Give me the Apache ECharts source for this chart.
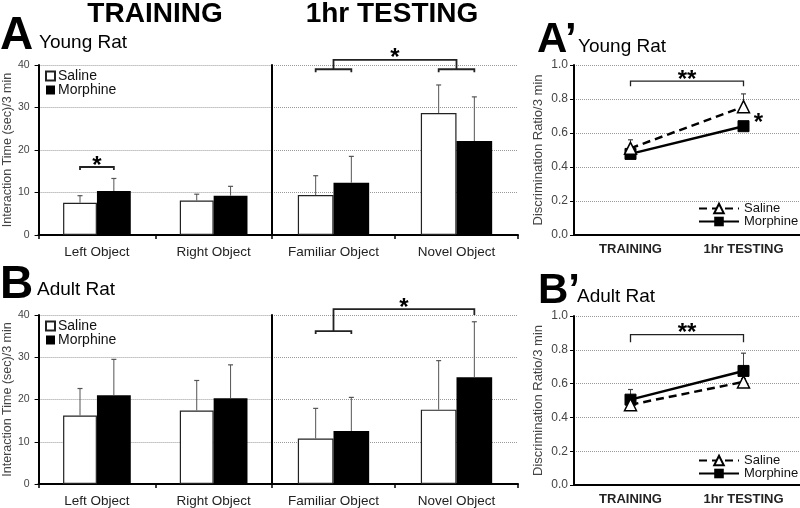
<!DOCTYPE html>
<html><head><meta charset="utf-8">
<script src="https://cdn.jsdelivr.net/npm/echarts@6/dist/echarts.min.js"></script>
<style>html,body{margin:0;padding:0;background:#fff}#c{width:800px;height:508px}</style>
</head><body><div id="c"></div>
<script>
// ---------- data ----------
const trainCategories = ['Left Object', 'Right Object'];
const testCategories = ['Familiar Object', 'Novel Object'];
const phases = ['TRAINING', '1hr TESTING'];

// Young rat (A) interaction time, mean and SEM
const youngTrainSaline = [7.6, 8.1];
const youngTrainSalineErr = [1.65, 1.5];
const youngTrainMorphine = [10.35, 9.25];
const youngTrainMorphineErr = [2.95, 2.2];
const youngTestSaline = [9.4, 28.7];
const youngTestSalineErr = [4.55, 6.6];
const youngTestMorphine = [12.3, 22.1];
const youngTestMorphineErr = [6.2, 10.4];

// Adult rat (B) interaction time
const adultTrainSaline = [16.2, 17.4];
const adultTrainSalineErr = [6.4, 7.1];
const adultTrainMorphine = [21.0, 20.3];
const adultTrainMorphineErr = [8.5, 7.9];
const adultTestSaline = [10.75, 17.6];
const adultTestSalineErr = [7.15, 11.6];
const adultTestMorphine = [12.55, 25.25];
const adultTestMorphineErr = [7.95, 13.15];

// Discrimination ratio (A', B')
const youngDRSaline = [0.51, 0.755];
const youngDRSalineErr = [0.05, 0.075];
const youngDRMorphine = [0.477, 0.64];
const youngDRMorphineErr = [0.02, 0.02];
const adultDRSaline = [0.475, 0.61];
const adultDRSalineErr = [0.02, 0.02];
const adultDRMorphine = [0.505, 0.675];
const adultDRMorphineErr = [0.06, 0.105];

// ---------- chart ----------
const FONT = "'Liberation Sans', Arial, sans-serif";
const GAP = 0.42;
const chart = echarts.init(document.getElementById('c'), null, {renderer: 'canvas'});

const grids = [
  {left: 38, top: 65, width: 234, height: 170},
  {left: 272, top: 65, width: 246, height: 170},
  {left: 38, top: 315, width: 234, height: 169},
  {left: 272, top: 315, width: 246, height: 169},
  {left: 574, top: 65, width: 226, height: 170},
  {left: 574, top: 316, width: 226, height: 169}
];

function catAxis(gi, data, bold) {
  return {
    type: 'category', gridIndex: gi, data: data,
    axisLine: {lineStyle: {color: '#000', width: 2}},
    axisTick: {show: !bold, length: 4, lineStyle: {color: '#000', width: 1.5}},
    axisLabel: {fontSize: bold ? 13 : 13.5, color: '#222', margin: bold ? 8 : 10, fontFamily: FONT, fontWeight: bold ? 'bold' : 'normal'},
    splitLine: {show: false}
  };
}
const split = {show: true, lineStyle: {type: 'dotted', color: '#999', width: 1}};
function barY(gi, labels) {
  return {
    type: 'value', gridIndex: gi, min: 0, max: 40, interval: 10,
    name: labels ? 'Interaction Time (sec)/3 min' : '', nameLocation: 'middle', nameGap: 24,
    nameTextStyle: {fontSize: 12.5, color: '#444', fontFamily: FONT},
    axisLine: {show: true, lineStyle: {color: '#000', width: 2}},
    axisTick: {show: labels, length: 4, lineStyle: {color: '#000'}},
    axisLabel: {show: labels, fontSize: 10.5, color: '#444', margin: 9, fontFamily: FONT},
    splitLine: split
  };
}
function lineY(gi) {
  return {
    type: 'value', gridIndex: gi, min: 0, max: 1, interval: 0.2,
    name: 'Discrimination Ratio/3 min', nameLocation: 'middle', nameGap: 29,
    nameTextStyle: {fontSize: 13, color: '#444', fontFamily: FONT},
    axisLine: {show: true, lineStyle: {color: '#000', width: 2}},
    axisTick: {show: true, length: 4, lineStyle: {color: '#000'}},
    axisLabel: {fontSize: 12, color: '#444', margin: 6, fontFamily: FONT, formatter: v => v.toFixed(1)},
    splitLine: split
  };
}

function bar(name, gi, data) {
  return {
    type: 'bar', name: name, xAxisIndex: gi, yAxisIndex: gi, data: data,
    barGap: '0%', barCategoryGap: (GAP * 100) + '%',
    itemStyle: name === 'Saline' ? {color: '#fff', borderColor: '#222', borderWidth: 1.2} : {color: '#000'},
    z: 2
  };
}
function err(id, gi, vals, errs, side, color, z) {
  return {
    type: 'custom', name: id, xAxisIndex: gi, yAxisIndex: gi, silent: true, z: z,
    encode: {x: 0, y: 1},
    data: vals.map((v, i) => [i, v, errs[i]]),
    renderItem: (params, api) => {
      const i = api.value(0), v = api.value(1), e = api.value(2);
      const base = api.coord([i, v]);
      const top = api.coord([i, v + e]);
      let x = base[0];
      if (side !== 0) {
        const band = api.size([1, 0])[0];
        x += side * band * (1 - GAP) / 4;
      }
      return {type: 'group', children: [
        {type: 'line', shape: {x1: x, y1: base[1], x2: x, y2: top[1]}, style: {stroke: color, lineWidth: 1}},
        {type: 'line', shape: {x1: x - 2.5, y1: top[1], x2: x + 2.5, y2: top[1]}, style: {stroke: color, lineWidth: 1.2}}
      ]};
    }
  };
}
function line(name, gi, data) {
  const sal = name === 'SalineDR';
  return {
    type: 'line', name: name, xAxisIndex: gi, yAxisIndex: gi, data: data,
    symbol: sal ? 'triangle' : 'rect', symbolSize: sal ? 12 : 11,
    lineStyle: {color: '#000', width: 2.5, type: sal ? [8, 5] : 'solid'},
    itemStyle: sal ? {color: '#fff', borderColor: '#000', borderWidth: 1.5} : {color: '#000', borderColor: '#000'},
    z: sal ? 4 : 3
  };
}

const barLegend = (top) => ({
  left: 45, top: top, orient: 'vertical', itemGap: 0, itemWidth: 9, itemHeight: 9, padding: 0,
  icon: 'rect', selectedMode: false, data: ['Saline', 'Morphine'],
  textStyle: {fontSize: 14, color: '#111', fontFamily: FONT, padding: [0, 0, 0, -2]}
});
const lineLegend = (top) => ({
  left: 698, top: top, orient: 'vertical', itemGap: 0, itemWidth: 40, itemHeight: 12, padding: 0,
  selectedMode: false, data: ['SalineDR', 'MorphineDR'], formatter: n => n.replace('DR', ''),
  textStyle: {fontSize: 13, color: '#111', fontFamily: FONT}
});

chart.setOption({
  animation: false,
  backgroundColor: '#fff',
  textStyle: {fontFamily: FONT},
  grid: grids,
  xAxis: [
    catAxis(0, trainCategories), catAxis(1, testCategories),
    catAxis(2, trainCategories), catAxis(3, testCategories),
    catAxis(4, phases, true), catAxis(5, phases, true)
  ],
  yAxis: [barY(0, true), barY(1, false), barY(2, true), barY(3, false), lineY(4), lineY(5)],
  legend: [barLegend(69), barLegend(319), lineLegend(202), lineLegend(454)],
  series: [
    bar('Saline', 0, youngTrainSaline), bar('Morphine', 0, youngTrainMorphine),
    bar('Saline', 1, youngTestSaline), bar('Morphine', 1, youngTestMorphine),
    bar('Saline', 2, adultTrainSaline), bar('Morphine', 2, adultTrainMorphine),
    bar('Saline', 3, adultTestSaline), bar('Morphine', 3, adultTestMorphine),
    err('e0s', 0, youngTrainSaline, youngTrainSalineErr, -1, '#555', 3),
    err('e0m', 0, youngTrainMorphine, youngTrainMorphineErr, 1, '#555', 3),
    err('e1s', 1, youngTestSaline, youngTestSalineErr, -1, '#555', 3),
    err('e1m', 1, youngTestMorphine, youngTestMorphineErr, 1, '#555', 3),
    err('e2s', 2, adultTrainSaline, adultTrainSalineErr, -1, '#555', 3),
    err('e2m', 2, adultTrainMorphine, adultTrainMorphineErr, 1, '#555', 3),
    err('e3s', 3, adultTestSaline, adultTestSalineErr, -1, '#555', 3),
    err('e3m', 3, adultTestMorphine, adultTestMorphineErr, 1, '#555', 3),
    err('e4s', 4, youngDRSaline, youngDRSalineErr, 0, '#444', 1),
    err('e4m', 4, youngDRMorphine, youngDRMorphineErr, 0, '#444', 1),
    err('e5s', 5, adultDRSaline, adultDRSalineErr, 0, '#444', 1),
    err('e5m', 5, adultDRMorphine, adultDRMorphineErr, 0, '#444', 1),
    line('SalineDR', 4, youngDRSaline), line('MorphineDR', 4, youngDRMorphine),
    line('SalineDR', 5, adultDRSaline), line('MorphineDR', 5, adultDRMorphine)
  ]
});

// ---------- annotations (positions via the axes) ----------
function P(g, c, v) { return chart.convertToPixel({xAxisIndex: g, yAxisIndex: g}, [c, v]); }
function off(g) { return (P(g, 1, 0)[0] - P(g, 0, 0)[0]) * (1 - GAP) / 4; }
const els = [];
function poly(pts, w) {
  els.push({type: 'polyline', shape: {points: pts}, style: {stroke: '#222', lineWidth: w || 1.8, fill: null}, z: 10});
}
function txt(s, x, y, font, align) {
  els.push({type: 'text', x: x, y: y, z: 10, style: {text: s, font: font, fill: '#000', align: align || 'left', verticalAlign: 'middle'}});
}
const STAR = "bold 24px " + FONT;

// A training bracket
(function () {
  const o = off(0), c = P(0, 0, 16), y = c[1];
  const x1 = c[0] - o, x2 = c[0] + o;
  poly([[x1, y + 3], [x1, y], [x2, y], [x2, y + 3]]);
  txt('*', (x1 + x2) / 2, y - 1, STAR, 'center');
})();
// A testing brackets
(function () {
  const o = off(1);
  const f = P(1, 0, 39), n = P(1, 1, 39), top = P(1, 0, 41.2)[1];
  poly([[f[0] - o, f[1] + 3], [f[0] - o, f[1]], [f[0] + o, f[1]], [f[0] + o, f[1] + 3]]);
  poly([[n[0] - o, n[1] + 3], [n[0] - o, n[1]], [n[0] + o, n[1]], [n[0] + o, n[1] + 3]]);
  poly([[f[0], f[1]], [f[0], top], [n[0], top], [n[0], n[1]]]);
  txt('*', (f[0] + n[0]) / 2, top - 2, STAR, 'center');
})();
// B testing brackets
(function () {
  const o = off(3);
  const f = P(3, 0, 36.2), top = P(3, 0, 41.4)[1], n = P(3, 1, 40);
  const nx = n[0] + o;
  poly([[f[0] - o, f[1] + 3], [f[0] - o, f[1]], [f[0] + o, f[1]], [f[0] + o, f[1] + 3]]);
  poly([[f[0], f[1]], [f[0], top], [nx, top], [nx, n[1]]]);
  txt('*', (f[0] + nx) / 2, top - 1, STAR, 'center');
})();
// A' and B' brackets
(function () {
  [[4, 0.905, 0.875], [5, 0.89, 0.845]].forEach(([g, v, t]) => {
    const a = P(g, 0, v), b = P(g, 1, v), ty = P(g, 0, t)[1];
    poly([[a[0], ty], [a[0], a[1]], [b[0], b[1]], [b[0], ty]], 1.3);
    txt('**', (a[0] + b[0]) / 2, a[1] - 1, STAR, 'center');
  });
  const s = P(4, 1, 0.69);
  txt('*', s[0] + 15, s[1] + 6, STAR, 'center');
})();

// titles and panel labels
const TITLE = "bold 28px " + FONT;
txt('TRAINING', 155, 14, TITLE, 'center');
txt('1hr TESTING', 392, 14, TITLE, 'center');
txt('A', 0, 36, "bold 46px " + FONT);
txt('Young Rat', 39, 43, "19px " + FONT);
txt('B', 0, 285, "bold 46px " + FONT);
txt('Adult Rat', 37, 290, "19px " + FONT);
txt('A\u2019', 537, 40, "bold 42px " + FONT);
txt('Young Rat', 578, 47, "19px " + FONT);
txt('B\u2019', 538, 291, "bold 42px " + FONT);
txt('Adult Rat', 577, 297, "19px " + FONT);

chart.setOption({graphic: els});
</script>
</body></html>
